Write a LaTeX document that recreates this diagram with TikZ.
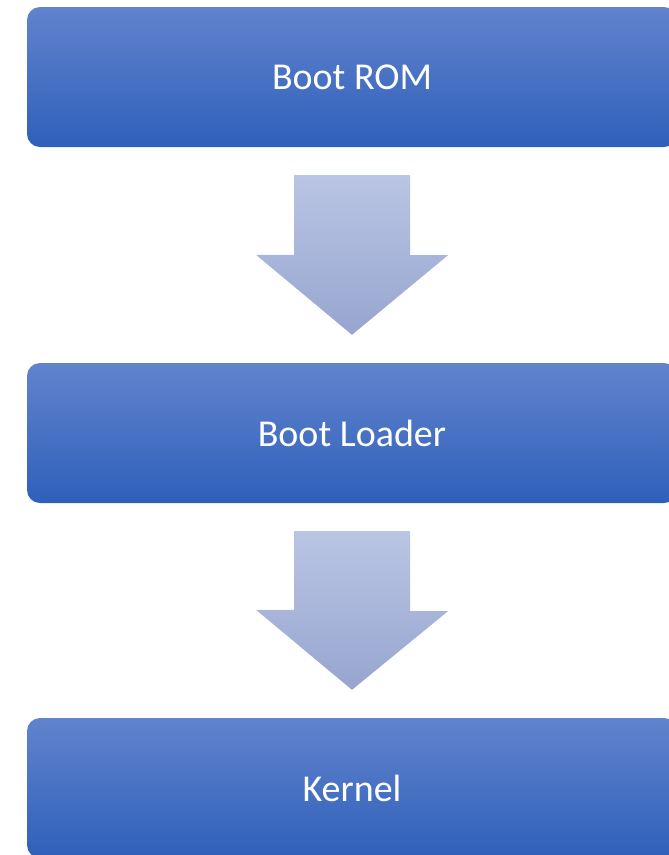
\documentclass[tikz,border=0pt]{standalone}
\usepackage{fontspec}
\setmainfont{Carlito}
\usepackage{tikz}
\usetikzlibrary{calc}

\definecolor{boxtop}{HTML}{6283CD}
\definecolor{boxbot}{HTML}{2E60BA}
\definecolor{arrtop}{HTML}{BAC5E4}
\definecolor{arrbot}{HTML}{97A5CF}

\begin{document}
\begin{tikzpicture}[
  x=1pt, y=-1pt,
  stage/.style={rounded corners=13pt, top color=boxtop, bottom color=boxbot,
                minimum width=650pt, minimum height=140pt, inner sep=0pt,
                text=white, font=\fontsize{38}{40}\selectfont},
  blockarrow/.style={top color=arrtop, bottom color=arrbot}
]
\useasboundingbox (0,0) rectangle (669,855);

\node[stage] (rom) at (352,77) {Boot ROM};
\node[stage] (loader) at (352,433) {Boot Loader};
\node[stage] (kernel) at (352,788) {Kernel};

\path[blockarrow] ($(rom.south)+(-58,28)$) -- ++(116,0) -- ++(0,80) -- ++(38,0)
  -- ($(loader.north)+(0,-28)$) -- ++(-96,-80) -- ++(38,0) -- cycle;
\path[blockarrow] ($(loader.south)+(-58,28)$) -- ++(116,0) -- ++(0,80) -- ++(38,0)
  -- ($(kernel.north)+(0,-28)$) -- ++(-96,-80) -- ++(38,0) -- cycle;
\end{tikzpicture}
\end{document}
